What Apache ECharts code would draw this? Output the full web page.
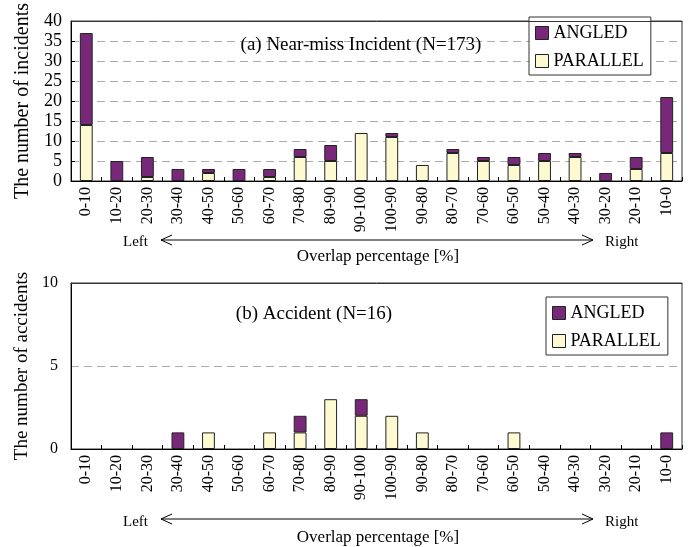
<!DOCTYPE html>
<html>
<head>
<meta charset="utf-8">
<script src="https://cdn.jsdelivr.net/npm/echarts@6/dist/echarts.min.js"></script>
<style>html,body{margin:0;padding:0;background:#fff;}#c{width:689px;height:547px;}</style>
</head>
<body>
<div id="c"></div>
<script>
var categories = ['0-10','10-20','20-30','30-40','40-50','50-60','60-70','70-80','80-90','90-100','100-90','90-80','80-70','70-60','60-50','50-40','40-30','30-20','20-10','10-0'];
var nearParallel = [14,0,1,0,2,0,1,6,5,12,11,4,7,5,4,5,6,0,3,7];
var nearAngled   = [23,5,5,3,1,3,2,2,4,0,1,0,1,1,2,2,1,2,3,14];
var accParallel  = [0,0,0,0,1,0,1,1,3,2,2,1,0,0,1,0,0,0,0,0];
var accAngled    = [0,0,0,1,0,0,0,1,0,1,0,0,0,0,0,0,0,0,0,1];
var nearTicks = [0,5,10,15,20,25,30,35,40];
var accTicks = [0,5,10];

var FONT = 'Liberation Serif';
var PURPLE = '#782878';
var CREAM = '#FDF9D0';
function nz(a){ return a.map(function(v){ return v === 0 ? null : v; }); }

var chart = echarts.init(document.getElementById('c'), null, {renderer:'canvas'});

function xCat(gi){
  return {
    type:'category', gridIndex:gi, data:categories, position:'bottom',
    axisLine:{show:true, lineStyle:{color:'#000', width:1}},
    axisTick:{show:true, inside:true, length:4, alignWithLabel:false, lineStyle:{color:'#000'}},
    axisLabel:{show:true, rotate:90, fontFamily:FONT, fontSize:16, color:'#000', margin:6, interval:0},
    splitLine:{show:false}
  };
}
function xTop(gi){
  return {
    type:'category', gridIndex:gi, data:categories, position:'top', z:5,
    axisLine:{show:true, lineStyle:{color:'#333', width:1}},
    axisTick:{show:false}, axisLabel:{show:false}, splitLine:{show:false}
  };
}
function yVal(gi, ticks, name, fs, margin, tick, gap, nfs){
  return {
    type:'value', gridIndex:gi, min:ticks[0], max:ticks[ticks.length-1], interval:ticks[1]-ticks[0],
    name:name, nameLocation:'middle', nameGap:gap, nameRotate:90,
    nameTextStyle:{fontFamily:FONT, fontSize:nfs, color:'#000'},
    axisLine:{show:true, lineStyle:{color:'#000', width:1}},
    axisTick:{show:tick, inside:true, length:4, lineStyle:{color:'#000'}},
    axisLabel:{fontFamily:FONT, fontSize:fs, color:'#000', margin:margin},
    splitLine:{show:true, lineStyle:{color:'#aaa', type:[8,5], width:1}}
  };
}
function legend(left, top){
  return {
    left:left, top:top, orient:'vertical', data:['ANGLED','PARALLEL'],
    icon:'rect', itemWidth:13, itemHeight:13, itemGap:10,
    padding:[7,7,5,6], borderColor:'#333', borderWidth:1, backgroundColor:'#fff',
    selectedMode:false,
    textStyle:{fontFamily:FONT, fontSize:18, color:'#000'},
    itemStyle:{borderColor:'#222', borderWidth:1}
  };
}
function bar(name, data, xi, yi, color, stack){
  return {
    type:'bar', name:name, data:nz(data), xAxisIndex:xi, yAxisIndex:yi, stack:stack,
    barWidth:'42%', itemStyle:{color:color, borderColor:'#222', borderWidth:1}, z:3
  };
}
function txt(x, y, s, fs, align){
  return {type:'text', x:x, y:y, z:10, style:{text:s, font:fs+'px "'+FONT+'"', fill:'#000', textAlign:align||'center', textVerticalAlign:'middle'}};
}
function arrow(y){
  var ls = {stroke:'#000', lineWidth:1, fill:null};
  return [
    {type:'line', shape:{x1:161, y1:y, x2:593, y2:y}, style:ls, z:10},
    {type:'polyline', shape:{points:[[172,y-5],[161,y],[172,y+5]]}, style:ls, z:10},
    {type:'polyline', shape:{points:[[582,y-5],[593,y],[582,y+5]]}, style:ls, z:10}
  ];
}

var graphics = [
  txt(361, 45, '(a) Near-miss Incident (N=173)', 19),
  txt(314, 314, '(b) Accident (N=16)', 19),
  txt(123, 242, 'Left', 15, 'left'),
  txt(605, 242, 'Right', 15, 'left'),
  txt(378, 257, 'Overlap percentage [%]', 17),
  txt(123, 522, 'Left', 15, 'left'),
  txt(605, 522, 'Right', 15, 'left'),
  txt(378, 538, 'Overlap percentage [%]', 17)
].concat(arrow(240)).concat(arrow(519));

chart.setOption({
  animation:false,
  backgroundColor:'#fff',
  grid:[
    {left:71, top:15, width:611, height:166, show:true, borderColor:'#333', borderWidth:1, backgroundColor:'transparent'},
    {left:71, top:283, width:611, height:166, show:true, borderColor:'#333', borderWidth:1, backgroundColor:'transparent'}
  ],
  xAxis:[xCat(0), xCat(1), xTop(0), xTop(1)],
  yAxis:[
    yVal(0, nearTicks, 'The number of incidents', 18, 9, true, 38, 20),
    yVal(1, accTicks, 'The number of accidents', 16, 13, false, 38, 19)
  ],
  legend:[legend(529, 17), legend(546, 297)],
  series:[
    bar('PARALLEL', nearParallel, 0, 0, CREAM, 'a'),
    bar('ANGLED', nearAngled, 0, 0, PURPLE, 'a'),
    bar('PARALLEL', accParallel, 1, 1, CREAM, 'b'),
    bar('ANGLED', accAngled, 1, 1, PURPLE, 'b')
  ],
  graphic:graphics
});
</script>
</body>
</html>
